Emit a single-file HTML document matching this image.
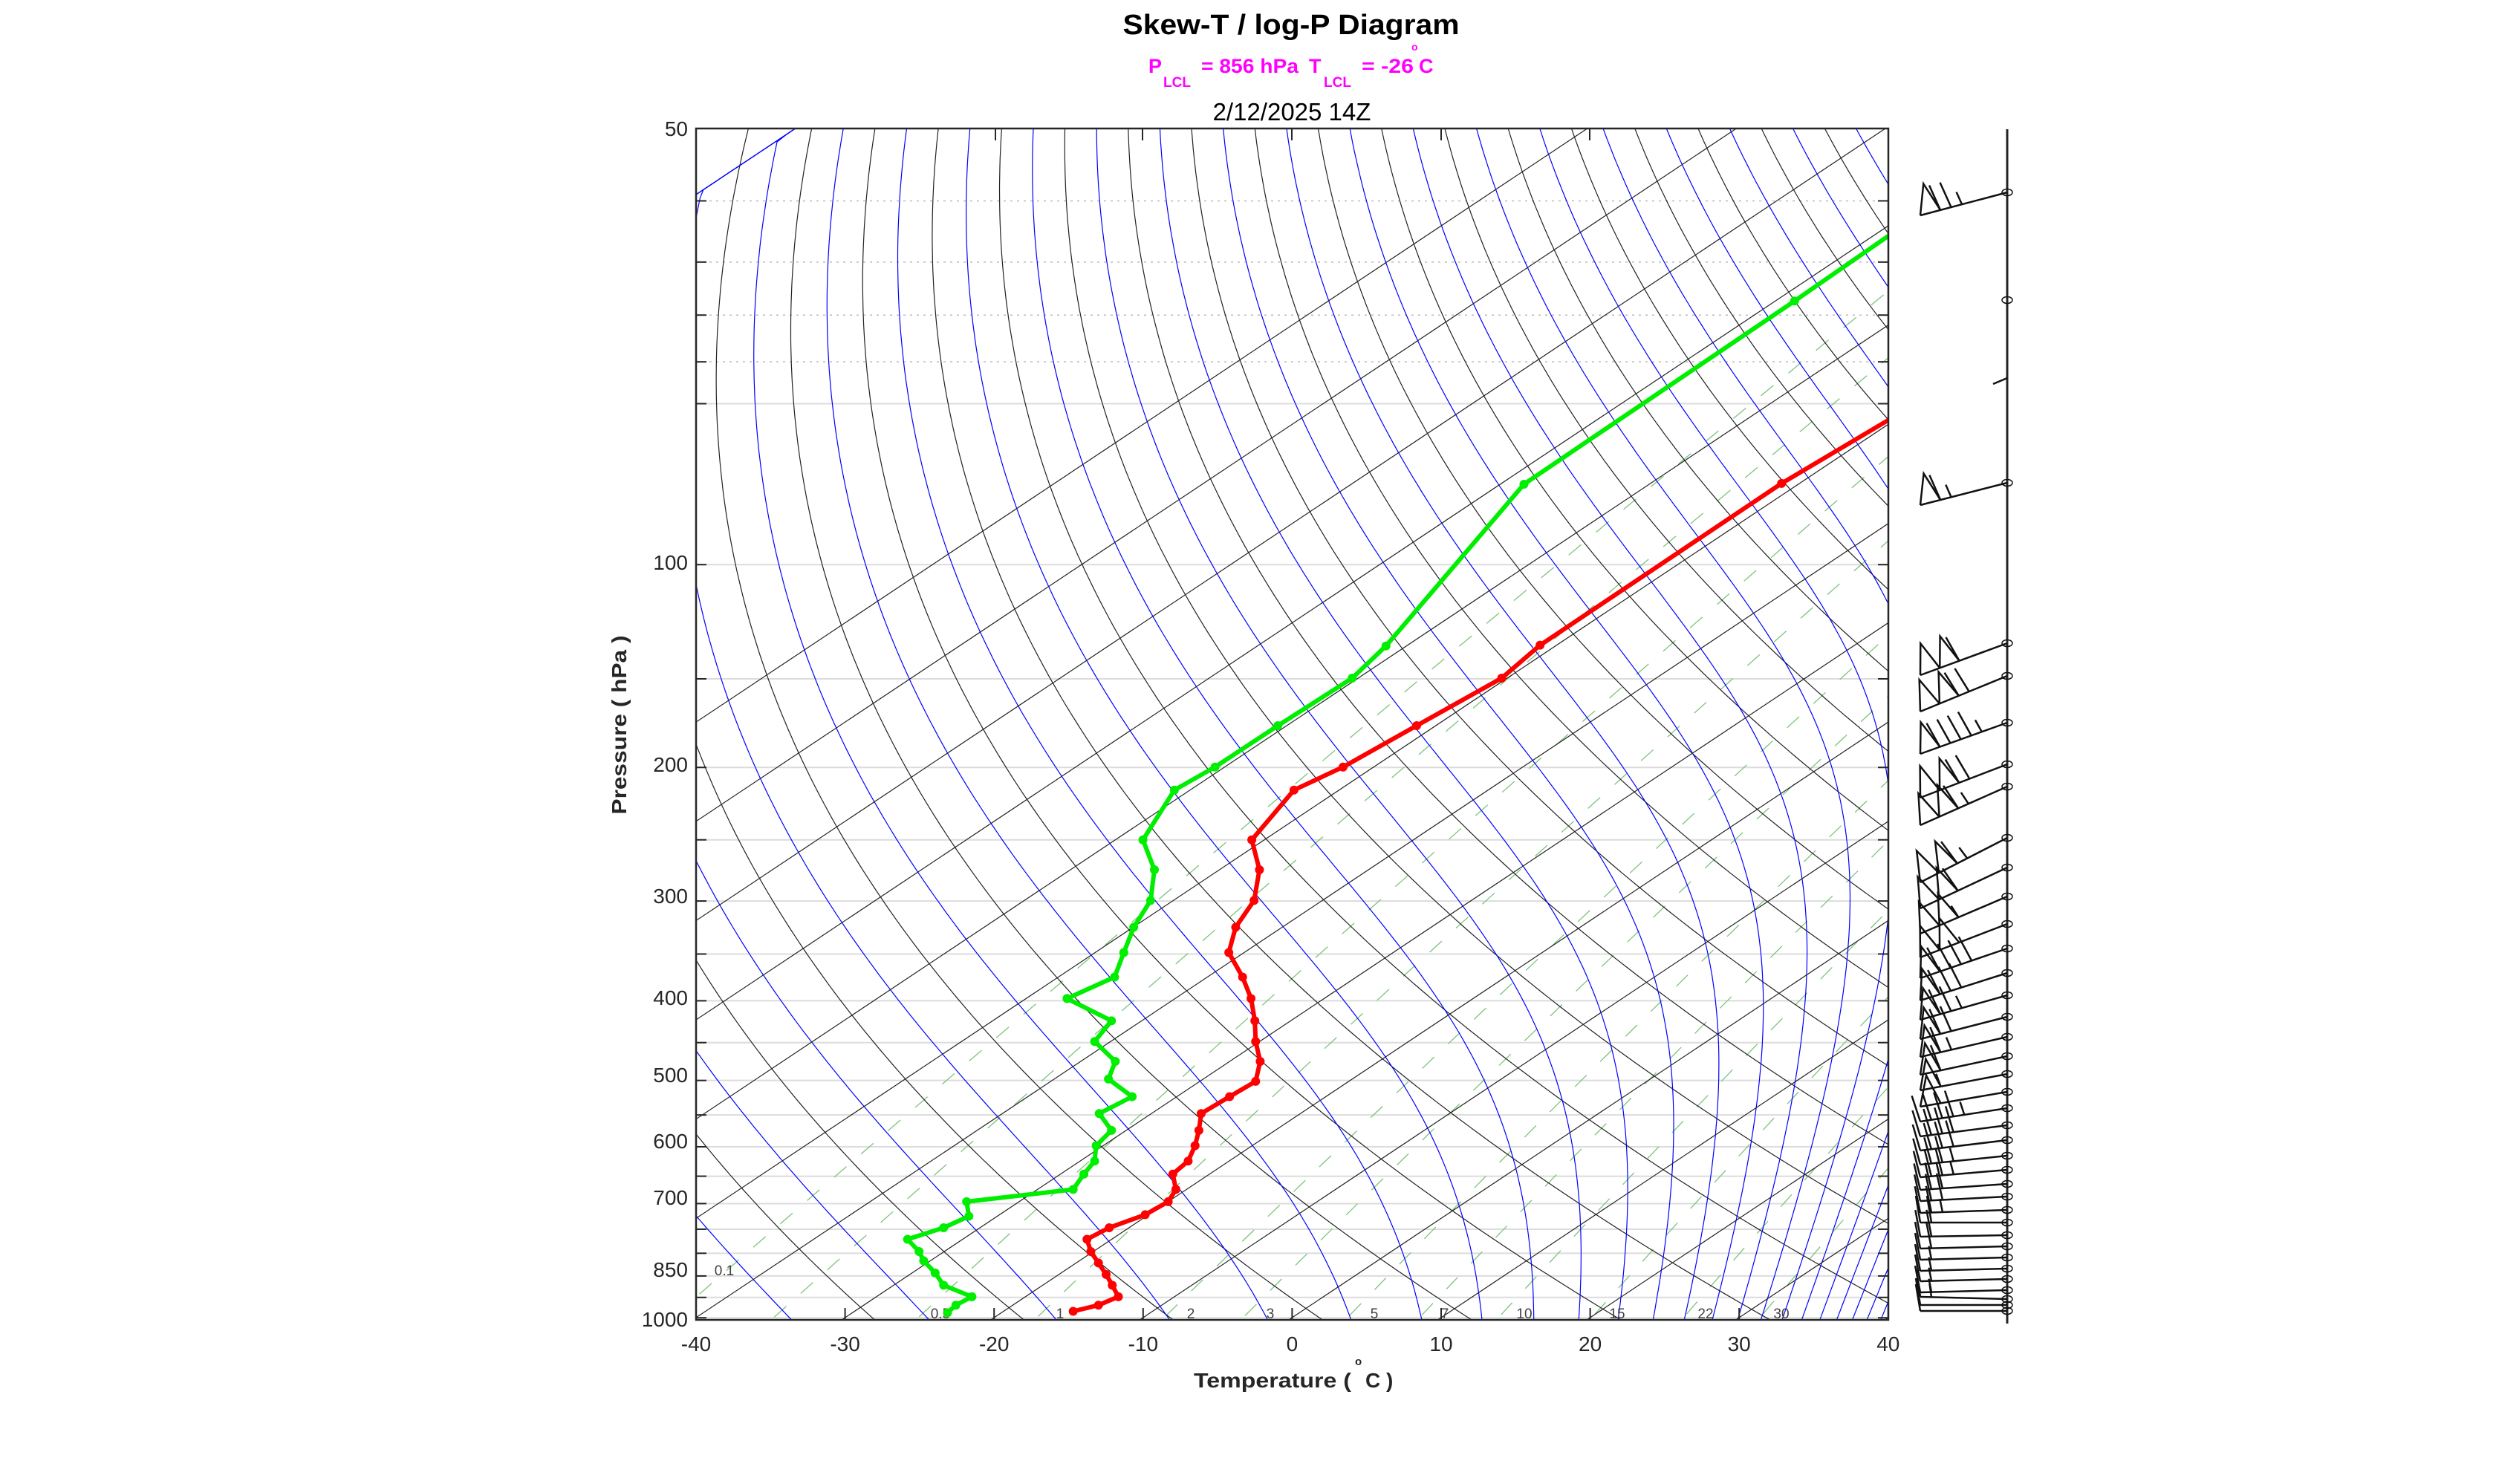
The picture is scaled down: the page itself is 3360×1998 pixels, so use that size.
<!DOCTYPE html>
<html><head><meta charset="utf-8"><style>
html,body{margin:0;padding:0;background:#fff;}
svg{display:block;}
text{font-family:"Liberation Sans",Arial,sans-serif;}
</style></head><body>
<svg id="s" xmlns="http://www.w3.org/2000/svg" width="3360" height="1998" viewBox="0 0 3360 1998">
<defs><clipPath id="c"><rect x="937" y="173" width="1605" height="1604"/></clipPath></defs>
<rect width="3360" height="1998" fill="#fff"/>
<g id="grid"></g>
<g id="lines" clip-path="url(#c)"></g>
<g id="prof" clip-path="url(#c)"></g>
<g id="frame"></g>
<g id="barbs"></g>
<text x="1738" y="46" font-size="38" font-weight="bold" text-anchor="middle" textLength="453" lengthAdjust="spacingAndGlyphs">Skew-T / log-P Diagram</text>
<g fill="#ff00ff" font-weight="bold" font-size="27">
<text x="1546" y="98">P</text>
<text x="1566" y="117" font-size="19">LCL</text>
<text x="1617" y="98" textLength="131" lengthAdjust="spacingAndGlyphs">= 856 hPa</text>
<text x="1762" y="98">T</text>
<text x="1782" y="117" font-size="19">LCL</text>
<text x="1833" y="98" textLength="70" lengthAdjust="spacingAndGlyphs">= -26</text>
<text x="1900" y="68" font-size="14">o</text>
<text x="1910" y="98">C</text>
</g>
<text x="1739" y="162" font-size="33" text-anchor="middle">2/12/2025  14Z</text>
<text transform="translate(843,976) rotate(-90)" font-size="28" font-weight="bold" text-anchor="middle" fill="#262626" textLength="241" lengthAdjust="spacingAndGlyphs">Pressure ( hPa )</text>
<g fill="#262626" font-size="28" font-weight="bold">
<text x="1607" y="1868" textLength="212" lengthAdjust="spacingAndGlyphs">Temperature (</text>
<text x="1824" y="1838" font-size="15">o</text>
<text x="1838" y="1868">C )</text>
</g>
</svg>
<script>
(function(){
var NS="http://www.w3.org/2000/svg";
function el(p,t,a,txt){var e=document.createElementNS(NS,t);for(var k in a)e.setAttribute(k,a[k]);if(txt!==undefined)e.textContent=txt;p.appendChild(e);return e;}
var grid=document.getElementById('grid'),lines=document.getElementById('lines'),prof=document.getElementById('prof'),frame=document.getElementById('frame'),barbs=document.getElementById('barbs');
var L=937,R=2542,T0=173,B=1777,K=534.5;
function Y(p){return T0+K*Math.log(p/50);}
function X(Tc,p){return 1739+20.06*(Tc+40*Math.log(1000/p));}
function path(pts){var d="";for(var i=0;i<pts.length;i++){d+=(i?"L":"M")+pts[i][0].toFixed(1)+" "+pts[i][1].toFixed(1);}return d;}
[60,70,80,90].forEach(function(p){var y=Y(p);el(grid,'line',{x1:L,x2:R,y1:y,y2:y,stroke:'#bbb','stroke-width':1.5,'stroke-dasharray':'3 6'});});
for(var p=100;p<=1000;p+=50){var y=Y(p);el(grid,'line',{x1:L,x2:R,y1:y,y2:y,stroke:'#dcdcdc','stroke-width':2});}
var ps=[];for(var lp=Math.log(1060);lp>=Math.log(45);lp-=0.02)ps.push(Math.exp(lp));
function es(tc){return 6.112*Math.exp(17.67*tc/(tc+243.5));}
[0.1,0.2,0.5,1,2,3,5,7,10,15,22,30].forEach(function(w){var pts=[];ps.forEach(function(p){var e=w*p/(622+w);var l=Math.log(e/6.112);var t=243.5*l/(17.67-l);pts.push([X(t,p),Y(p)]);});
el(lines,'path',{d:path(pts),fill:'none',stroke:'#7cc47c','stroke-width':1.3,'stroke-dasharray':'22 26'});});
for(var th=245;th<=625;th+=10){var pts=[];ps.forEach(function(p){var t=th*Math.pow(p/1000,0.2857)-273.15;pts.push([X(t,p),Y(p)]);});
el(lines,'path',{d:path(pts),fill:'none',stroke:'#222','stroke-width':1.2});}
function the(Tk,p){var e=es(Tk-273.15);if(e>0.8*p)return 1e9;var r=0.622*e/(p-e);return Tk*Math.pow(1000/p,0.2857)*Math.exp(2.5e6*r/(1004*Tk));}
for(var te=240;te<=620;te+=10){var pts=[];ps.forEach(function(p){var lo=120,hi=340;for(var i=0;i<40;i++){var m=(lo+hi)/2;if(the(m,p)<te)lo=m;else hi=m;}pts.push([X(lo-273.15,p),Y(p)]);});
el(lines,'path',{d:path(pts),fill:'none',stroke:'#0000ff','stroke-width':1.2});}
for(var t=-100;t<=40;t+=10){el(lines,'line',{x1:X(t,1060),y1:Y(1060),x2:X(t,45),y2:Y(45),stroke:'#222','stroke-width':1.2});}
var ml=[["0.1",975,1717],["0.5",1266,1775],["1",1427,1775],["2",1603,1775],["3",1710,1775],["5",1850,1775],["7",1945,1775],["10",2052,1775],["15",2177,1775],["22",2296,1775],["30",2398,1775]];
ml.forEach(function(m){el(lines,'text',{x:m[1],y:m[2],'font-size':19,fill:'#404040','text-anchor':'middle'},m[0]);});
var G=[[1600,110],[1430,228],[1077,467],[897,678],[853,720],[756,782],[674,836],[621,866],[580,931],[595,970],[590,1010],[568,1045],[555,1078],[543,1110],[481,1138],[539,1167],[517,1194],[544,1220],[535,1243],[566,1266],[523,1288],[539,1310],[519,1330],[517,1350],[503,1367],[489,1387],[350,1403],[353,1422],[320,1437],[273,1452],[288,1468],[294,1480],[309,1496],[320,1512],[357,1527],[336,1538],[325,1548]];
var Rd=[[1600,355],[1413,466],[1098,677],[1048,720],[937,782],[841,836],[777,866],[722,931],[732,970],[725,1010],[701,1045],[692,1078],[710,1110],[721,1138],[726,1167],[727,1194],[733,1220],[727,1246],[693,1266],[656,1288],[653,1310],[648,1330],[639,1350],[619,1367],[623,1387],[613,1403],[583,1420],[536,1437],[507,1452],[512,1468],[522,1483],[532,1498],[540,1512],[548,1527],[522,1538],[489,1546]];
function conv(a){return a.map(function(q){return [940+q[0]/0.969,170+q[1]/0.969];});}
[[G,'#00ee00'],[Rd,'#ff0000']].forEach(function(s){var pts=conv(s[0]);el(prof,'path',{d:path(pts),fill:'none',stroke:s[1],'stroke-width':6,'stroke-linejoin':'round'});
pts.slice(1).forEach(function(q){el(prof,'circle',{cx:q[0],cy:q[1],r:6,fill:s[1]});});});
el(frame,'rect',{x:L,y:T0,width:R-L,height:B-T0,fill:'none',stroke:'#262626','stroke-width':2.5});
for(var p=100;p<=1000;p+=50){var y=Y(p);el(frame,'line',{x1:L,x2:L+14,y1:y,y2:y,stroke:'#262626','stroke-width':2});el(frame,'line',{x1:R-14,x2:R,y1:y,y2:y,stroke:'#262626','stroke-width':2});}
[60,70,80,90].forEach(function(p){var y=Y(p);el(frame,'line',{x1:L,x2:L+14,y1:y,y2:y,stroke:'#262626','stroke-width':2});el(frame,'line',{x1:R-14,x2:R,y1:y,y2:y,stroke:'#262626','stroke-width':2});});
for(var t=-40;t<=40;t+=10){var x=L+(t+40)*20.06;el(frame,'line',{x1:x,x2:x,y1:B,y2:B-16,stroke:'#262626','stroke-width':2});
el(frame,'text',{x:x,y:1819,'font-size':28,fill:'#262626','text-anchor':'middle'},String(t));}
[1340,1538,1739,1940,2140].forEach(function(x){el(frame,'line',{x1:x,x2:x,y1:T0,y2:T0+16,stroke:'#262626','stroke-width':2});});
var yl=[["50",173],["100",757],["200",1029],["300",1206],["400",1343],["500",1447],["600",1536],["700",1612],["850",1709],["1000",1776]];
yl.forEach(function(q){el(frame,'text',{x:926,y:q[1]+10,'font-size':28,fill:'#262626','text-anchor':'end'},q[0]);});
var SX=2702;
el(barbs,'line',{x1:SX,x2:SX,y1:174,y2:1782,stroke:'#222','stroke-width':3});
var lv=[[259,31,75],[404,0,0],[650,30,65],[866,43,110],[910,48,120],[973,42,95],[1029,45,120],[1059,52,115],[1128,60,115],[1168,55,110],[1207,50,105],[1244,45,100],[1277,40,90],[1310,37,80],[1340,33,75],[1369,30,70],[1396,27,65],[1422,25,60],[1446,22,55],[1470,20,50],[1492,18,45],[1515,15,40],[1535,14,40],[1556,12,35],[1575,10,35],[1594,8,30],[1611,6,30],[1629,4,25],[1646,0,20],[1663,2,20],[1678,3,20],[1693,3,15],[1708,3,15],[1722,3,15],[1737,3,15],[1749,-3,15],[1757,0,10],[1765,0,10]];
var st={stroke:'#111','stroke-width':2.5,fill:'none'};
function a(o){var r={};for(var k in st)r[k]=st[k];for(var k in o)r[k]=o[k];return r;}
lv.forEach(function(v){var y=v[0];el(barbs,'ellipse',{cx:SX,cy:y,rx:7,ry:4.5,stroke:'#111','stroke-width':1.5,fill:'none'});
if(v[2]<=0)return;var tx=SX-117,ty=y+v[1];var dx=tx-SX,dy=ty-y,n=Math.hypot(dx,dy);var ux=dx/n,uy=dy/n;var px=uy,py=-ux;
if(py>0){px=-px;py=-py;}
el(barbs,'line',a({x1:SX,y1:y,x2:tx,y2:ty}));
var s=v[2],nf=Math.floor(s/50);s-=nf*50;var nb=Math.floor(s/10);s-=nb*10;var nh=s>=5?1:0;var pos=0;
for(var i=0;i<nf;i++){var Px=tx-ux*pos,Py=ty-uy*pos;var Ax=Px+px*40-ux*15,Ay=Py+py*40-uy*15;var Qx=Px-ux*28,Qy=Py-uy*28;
el(barbs,'path',a({d:"M"+Px+" "+Py+"L"+Ax+" "+Ay+"L"+Qx+" "+Qy}));pos+=28;}
for(var i=0;i<nb;i++){var Px=tx-ux*pos,Py=ty-uy*pos;el(barbs,'line',a({x1:Px,y1:Py,x2:Px+px*36+ux*6,y2:Py+py*36+uy*6}));pos+=15;}
if(nh){if(pos==0)pos=15;var Px=tx-ux*pos,Py=ty-uy*pos;el(barbs,'line',a({x1:Px,y1:Py,x2:Px+px*18+ux*3,y2:Py+py*18+uy*3}));}
});
el(barbs,'line',a({x1:SX,y1:509,x2:SX-19,y2:517}));
})();
</script>
</body></html>
